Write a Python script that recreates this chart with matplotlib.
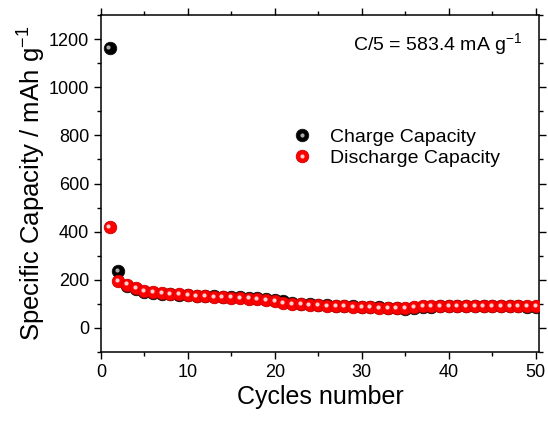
import matplotlib
matplotlib.use("Agg")
import matplotlib.pyplot as plt
import matplotlib.transforms as mtransforms
from matplotlib.legend_handler import HandlerTuple
import numpy as np

plt.rcParams['font.family'] = ['Liberation Sans', 'DejaVu Sans']
plt.rcParams['mathtext.fontset'] = 'custom'
plt.rcParams['mathtext.rm'] = 'Liberation Sans'

# =============================================
# Data
# =============================================
cycles = np.arange(1, 51)
charge = [1165, 235, 175, 160, 148, 145, 142, 140, 138, 136,
          134, 132, 131, 130, 128, 127, 125, 124, 122, 118,
          110, 104, 100, 98, 96, 94, 92, 90, 89, 88,
          86, 85, 84, 82, 78, 82, 86, 88, 90, 91,
          91, 91, 90, 90, 90, 89, 89, 89, 88, 88]
discharge = [420, 195, 180, 165, 152, 148, 145, 142, 139, 136,
             133, 131, 130, 128, 126, 124, 122, 120, 117, 113,
             104, 100, 98, 96, 94, 92, 90, 89, 88, 87,
             85, 84, 83, 82, 83, 88, 90, 91, 92, 92,
             92, 92, 91, 91, 91, 91, 90, 90, 90, 90]
series_labels = ['Charge Capacity', 'Discharge Capacity']

fig = plt.figure(figsize=(5.48, 4.21), dpi=100)
ax = fig.add_axes([0.184, 0.164, 0.8, 0.8])

hl = mtransforms.offset_copy(ax.transData, fig=fig, x=-0.8, y=0.8, units='points')

# sphere-like markers: base disc + small highlight
b1, = ax.plot(cycles, charge, 'o', ms=9, mfc='black', mec='#111111', mew=0.6, ls='none', zorder=3)
h1, = ax.plot(cycles, charge, 'o', ms=3, mfc='#aaaaaa', mec='none', ls='none', zorder=3, transform=hl)
b2, = ax.plot(cycles, discharge, 'o', ms=9, mfc='#ff0000', mec='#cc0000', mew=0.6, ls='none', zorder=4)
h2, = ax.plot(cycles, discharge, 'o', ms=3, mfc='#ffd0d0', mec='none', ls='none', zorder=4, transform=hl)

ax.set_xlim(0, 50.4)
ax.set_ylim(-100, 1300)
ax.set_xticks(np.arange(0, 51, 10))
ax.set_xticks(np.arange(0, 51, 5), minor=True)
ax.set_yticks(np.arange(0, 1201, 200))
ax.set_yticks(np.arange(-100, 1301, 100), minor=True)

ax.tick_params(axis='both', which='major', labelsize=13, length=5, width=1, direction='out')
ax.tick_params(axis='both', which='minor', length=3, width=1, direction='out')
ax.tick_params(top=True, right=True, which='both')
for s in ax.spines.values():
    s.set_linewidth(1.1)

ax.set_xlabel('Cycles number', fontsize=18, labelpad=3)
ax.set_ylabel('Specific Capacity / mAh g$^{-1}$', fontsize=18.5, labelpad=1)

ax.text(0.962, 0.912, 'C/5 = 583.4 mA g$^{-1}$', transform=ax.transAxes,
        ha='right', va='center', fontsize=14)

ax.legend([(b1, h1), (b2, h2)], series_labels,
          handler_map={tuple: HandlerTuple(ndivide=1)},
          loc='upper left', bbox_to_anchor=(0.42, 0.688), frameon=False,
          fontsize=14, handletextpad=0.9, labelspacing=0.2, handlelength=1.0,
          borderaxespad=0)

plt.savefig('out.png', dpi=100)
